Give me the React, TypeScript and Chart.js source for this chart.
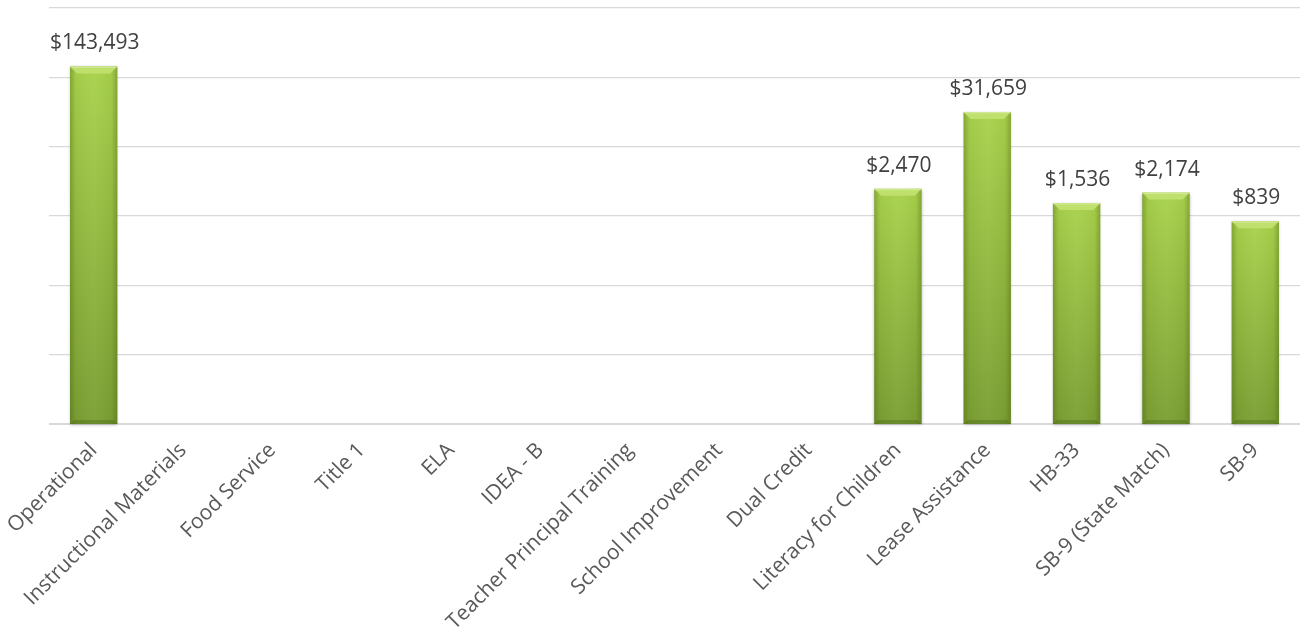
import React, { useEffect, useRef } from "react";
import { Chart, registerables } from "chart.js";

Chart.register(...registerables);

const categories = [
  "Operational",
  "Instructional Materials",
  "Food Service",
  "Title 1",
  "ELA",
  "IDEA - B",
  "Teacher Principal Training",
  "School Improvement",
  "Dual Credit",
  "Literacy for Children",
  "Lease Assistance",
  "HB-33",
  "SB-9 (State Match)",
  "SB-9",
];

const amounts = [143493, 0, 0, 0, 0, 0, 0, 0, 0, 2470, 31659, 1536, 2174, 839];

const gridValues = [1, 10, 100, 1000, 10000, 100000, 1000000];

const FONT = "'Open Sans', sans-serif";

const fmt = (v: number) => "$" + v.toLocaleString("en-US");

const barPlugin = {
  id: "bevelBars",
  afterDatasetsDraw(chart: any) {
    const ctx = chart.ctx;
    const meta = chart.getDatasetMeta(0);
    meta.data.forEach((el: any, i: number) => {
      const v = amounts[i];
      if (!v || v <= 0) return;
      const { x, y, base, width } = el.getProps(["x", "y", "base", "width"], true);
      const l = x - width / 2;
      const r = x + width / 2;
      const h = base - y;
      ctx.save();
      ctx.shadowColor = "rgba(0,0,0,0.25)";
      ctx.shadowBlur = 3;
      ctx.shadowOffsetY = 1;
      const vg = ctx.createLinearGradient(0, y, 0, base);
      vg.addColorStop(0, "#a9d24c");
      vg.addColorStop(1, "#7a9e33");
      ctx.fillStyle = vg;
      ctx.fillRect(l, y, width, h);
      ctx.shadowColor = "transparent";
      const hg = ctx.createLinearGradient(l, 0, r, 0);
      hg.addColorStop(0, "rgba(60,85,10,0.35)");
      hg.addColorStop(0.12, "rgba(60,85,10,0.05)");
      hg.addColorStop(0.5, "rgba(255,255,255,0.04)");
      hg.addColorStop(0.88, "rgba(60,85,10,0.05)");
      hg.addColorStop(1, "rgba(60,85,10,0.35)");
      ctx.fillStyle = hg;
      ctx.fillRect(l, y, width, h);
      ctx.fillStyle = "rgba(70,95,20,0.35)";
      ctx.beginPath();
      ctx.moveTo(l, base);
      ctx.lineTo(r, base);
      ctx.lineTo(r - 4, base - 4);
      ctx.lineTo(l + 4, base - 4);
      ctx.closePath();
      ctx.fill();
      const bv = 7;
      ctx.fillStyle = "#bfe06c";
      ctx.beginPath();
      ctx.moveTo(l, y);
      ctx.lineTo(r, y);
      ctx.lineTo(r - bv, y + bv);
      ctx.lineTo(l + bv, y + bv);
      ctx.closePath();
      ctx.fill();
      ctx.fillStyle = "rgba(255,255,255,0.25)";
      ctx.fillRect(l, y, width, 1.5);
      ctx.restore();

      ctx.save();
      ctx.font = `21px ${FONT}`;
      ctx.fillStyle = "#404040";
      ctx.textAlign = "center";
      ctx.textBaseline = "alphabetic";
      ctx.fillText(fmt(v), x + 1, y - 17);
      ctx.restore();
    });
  },
};

export default function App() {
  const ref = useRef<HTMLCanvasElement | null>(null);

  useEffect(() => {
    if (!ref.current) return;
    const chart = new Chart(ref.current, {
      type: "bar",
      data: {
        labels: categories,
        datasets: [
          {
            data: amounts.map((v) => (v > 0 ? v : null)) as any,
            backgroundColor: "rgba(0,0,0,0)",
            borderWidth: 0,
            barPercentage: 0.53,
            categoryPercentage: 1,
          },
        ],
      },
      options: {
        animation: false,
        responsive: true,
        maintainAspectRatio: false,
        layout: { padding: { left: 49, right: 2, top: 8, bottom: 0 } },
        plugins: {
          legend: { display: false },
          tooltip: { enabled: false },
        },
        scales: {
          x: {
            grid: { display: false },
            border: { display: false },
            ticks: {
              color: "#595959",
              font: { family: FONT, size: 21 },
              maxRotation: 45,
              minRotation: 45,
              autoSkip: false,
              padding: 6,
            },
            afterFit: (s: any) => {
              s.height = 209;
              s.paddingLeft = 0;
              s.paddingRight = 0;
            },
          },
          y: {
            type: "logarithmic",
            min: 1,
            max: 1000000,
            ticks: { display: false },
            border: { display: false },
            grid: {
              color: "#d9d9d9",
              lineWidth: (c: any) => (c.tick && c.tick.value === 1 ? 2 : 1.3),
              drawTicks: false,
            },
            afterBuildTicks: (s: any) => {
              s.ticks = gridValues.map((v) => ({ value: v }));
            },
            afterFit: (s: any) => {
              s.width = 0;
            },
          },
        },
      },
      plugins: [barPlugin],
    });
    return () => chart.destroy();
  }, []);

  return (
    <div style={{ position: "absolute", left: 0, top: 0, width: 1302, height: 633, background: "#fff" }}>
      <canvas ref={ref} />
    </div>
  );
}
